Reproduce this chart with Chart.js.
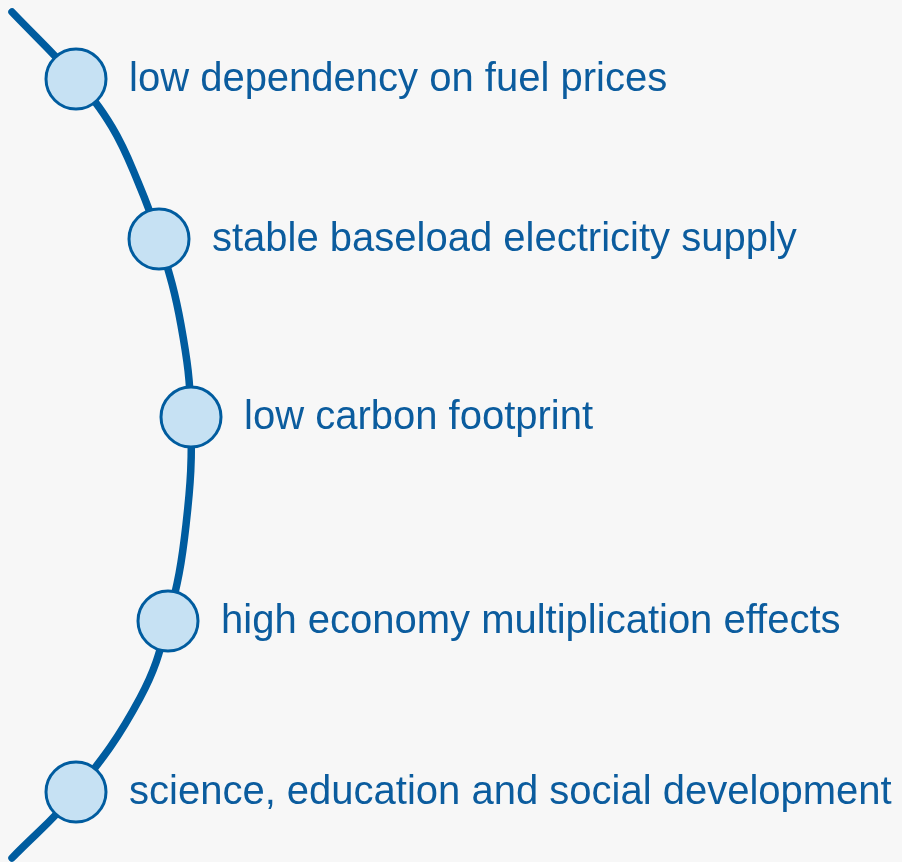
<!DOCTYPE html>
<html>
<head>
<meta charset="utf-8">
<script src="https://cdn.jsdelivr.net/npm/chart.js@4/dist/chart.umd.min.js"></script>
<style>
  html, body { margin: 0; padding: 0; background: #f7f7f7; }
  #wrap { width: 902px; height: 862px; }
</style>
</head>
<body>
<div id="wrap"><canvas id="benefitsChart"></canvas></div>
<script>
// benefit labels, top to bottom
const benefits = [
  'low dependency on fuel prices',
  'stable baseload electricity supply',
  'low carbon footprint',
  'high economy multiplication effects',
  'science, education and social development'
];
// circle centres (page units)
const nodeX = [76, 159, 191, 168, 76];
const nodeY = [79, 239, 417, 621, 792];

// points along the arc
const arcX = [12, 76, 112, 138, 159, 181, 191, 186, 168, 140, 76, 12];
const arcY = [12, 79, 127, 182, 239, 325, 417, 525, 621, 698, 792, 858];

const blue = '#005c9f';
const lightBlue = '#c6e1f3';

const toPoints = (xs, ys) => xs.map((x, i) => ({ x: x, y: ys[i] }));

// paint background
const bgPlugin = {
  id: 'bg',
  beforeDraw(chart) {
    const c = chart.ctx;
    c.save();
    c.fillStyle = '#f7f7f7';
    c.fillRect(0, 0, chart.width, chart.height);
    c.restore();
  }
};

// text next to each circle
const labelPlugin = {
  id: 'benefitLabels',
  afterDatasetsDraw(chart) {
    const c = chart.ctx;
    const meta = chart.getDatasetMeta(1);
    c.save();
    c.font = '40px "Liberation Sans", Arial, sans-serif';
    c.fillStyle = '#0b5c9e';
    c.textAlign = 'left';
    c.textBaseline = 'middle';
    meta.data.forEach((pt, i) => {
      c.fillText(benefits[i], pt.x + 53, pt.y + 1);
    });
    c.restore();
  }
};

const benefitsChart = new Chart(document.getElementById('benefitsChart'), {
  type: 'scatter',
  data: {
    datasets: [
      {
        // the arc, drawn underneath
        data: toPoints(arcX, arcY),
        order: 2,
        showLine: true,
        borderColor: blue,
        borderWidth: 7.5,
        borderCapStyle: 'round',
        tension: 0.4,
        pointRadius: 0,
        pointHoverRadius: 0,
        fill: false
      },
      {
        // the circles on top
        data: toPoints(nodeX, nodeY),
        order: 1,
        showLine: false,
        pointRadius: 30,
        pointHoverRadius: 30,
        pointBorderWidth: 3,
        pointBackgroundColor: lightBlue,
        pointBorderColor: blue
      }
    ]
  },
  options: {
    responsive: true,
    maintainAspectRatio: false,
    animation: false,
    layout: { padding: 0, autoPadding: false },
    plugins: {
      legend: { display: false },
      tooltip: { enabled: false }
    },
    scales: {
      x: { type: 'linear', min: 0, max: 902, display: false },
      y: { type: 'linear', min: 0, max: 862, reverse: true, display: false }
    }
  },
  plugins: [bgPlugin, labelPlugin]
});
</script>
</body>
</html>
